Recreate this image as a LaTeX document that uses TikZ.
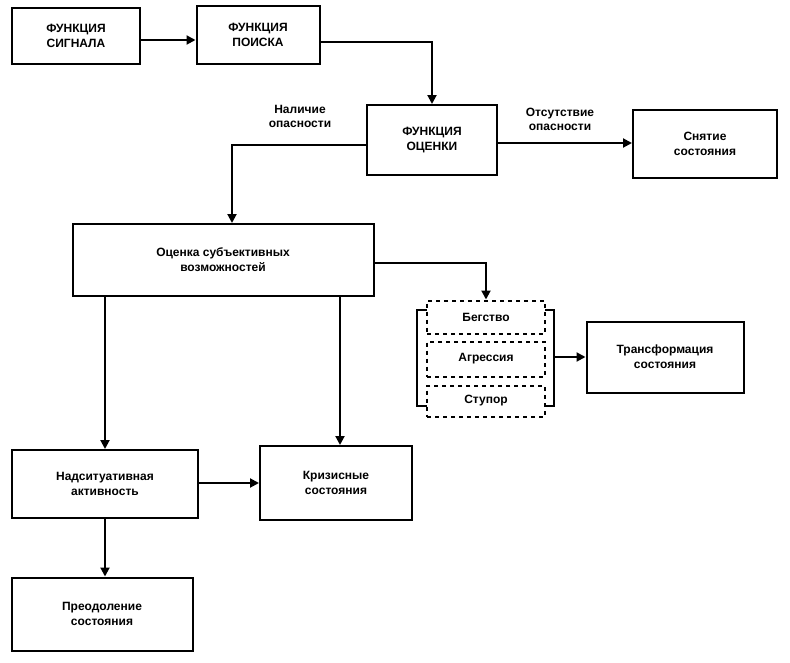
\documentclass[tikz,border=0pt]{standalone}
\usepackage{fontspec}
\setmainfont{Liberation Sans}
\usetikzlibrary{arrows.meta}
\begin{document}
\begin{tikzpicture}[x=1pt,y=-1pt,
 box/.style={draw,line width=2pt,align=center,font=\bfseries\fontsize{12}{15}\selectfont},
 dbox/.style={draw,line width=2pt,dash pattern=on 4pt off 4pt,align=center,font=\bfseries\fontsize{12}{15}\selectfont},
 lab/.style={align=center,font=\bfseries\fontsize{12}{14}\selectfont},
 arr/.style={line width=2pt,-{Triangle[length=9pt,width=9pt]}}]
\useasboundingbox (0,0) rectangle (790,662);
\node[box,minimum width=128,minimum height=56] (sig) at (76,36) {ФУНКЦИЯ\\СИГНАЛА};
\node[box,minimum width=123,minimum height=58] (poi) at (258,35) {ФУНКЦИЯ\\ПОИСКА};
\node[box,minimum width=130,minimum height=70] (oc) at (432,140) {ФУНКЦИЯ\\ОЦЕНКИ};
\node[box,minimum width=144,minimum height=68] (sn) at (705,144) {Снятие\\состояния};
\node[box,minimum width=301,minimum height=72] (sub) at (223,260) {Оценка субъективных\\возможностей};
\node[box,minimum width=186,minimum height=68] (nad) at (105,484) {Надситуативная\\активность};
\node[box,minimum width=152,minimum height=74] (kr) at (336,483) {Кризисные\\состояния};
\node[box,minimum width=181,minimum height=73] (pr) at (102,614) {Преодоление\\состояния};
\node[box,minimum width=157,minimum height=71] (tr) at (665,357) {Трансформация\\состояния};
\node[dbox,minimum width=118,minimum height=33] (beg) at (486,317) {Бегство};
\node[dbox,minimum width=118,minimum height=35] (agr) at (486,359) {Агрессия};
\node[dbox,minimum width=118,minimum height=31] (stu) at (486,401) {Ступор};
\coordinate (bl) at (417,357);
\coordinate (br) at (554,357);
\draw[line width=2pt] (427,310) -| (417,406) -- (427,406);
\draw[line width=2pt] (545,310) -| (554,406) -- (545,406);
\draw[arr] (sig.east|-0,40) -- (poi.west|-0,40);
\draw[arr] (poi.east|-0,42) -| (oc.north);
\draw[arr] (oc.west|-0,145) -| (sub.north-|232,0);
\node[lab] (nal) at (300,116) {Наличие\\опасности};
\draw[arr] (oc.east|-0,143) -- (sn.west|-0,143);
\node[lab] (ots) at (560,119) {Отсутствие\\опасности};
\draw[arr] (sub.east|-0,263) -| (beg.north);
\draw[arr] (br) -- (tr.west|-br);
\draw[arr] (sub.south-|105,0) -- (nad.north-|105,0);
\draw[arr] (sub.south-|340,0) -- (kr.north-|340,0);
\draw[arr] (nad.east|-0,483) -- (kr.west|-0,483);
\draw[arr] (nad.south-|105,0) -- (pr.north-|105,0);
\end{tikzpicture}
\end{document}
